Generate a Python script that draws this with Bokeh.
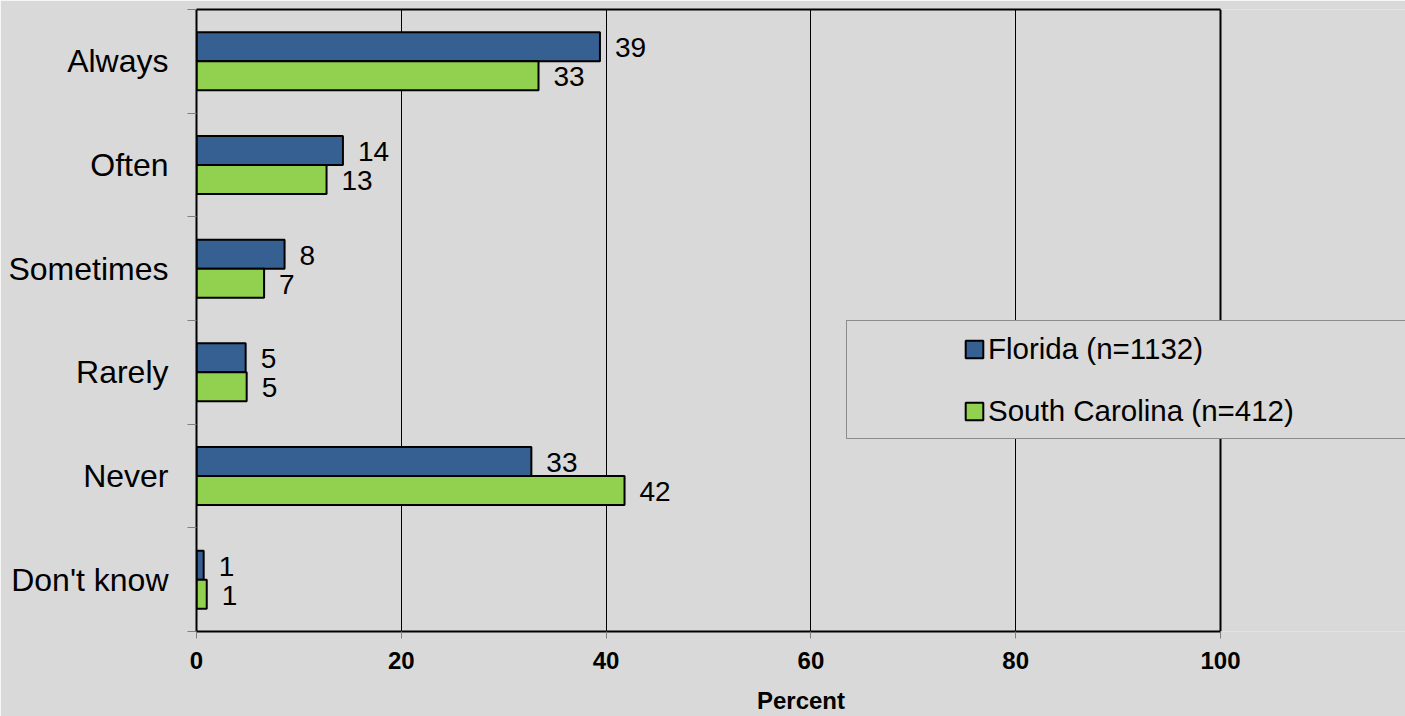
from bokeh.plotting import figure
from bokeh.models import (Range1d, FixedTicker, Legend, LegendItem, ColumnDataSource,
                          LinearAxis, Grid)
from bokeh.embed import file_html
from bokeh.resources import INLINE
from bokeh.core.properties import value

# ---- data ----
categories = ["Always", "Often", "Sometimes", "Rarely", "Never", "Don't know"]
florida = [39.4, 14.3, 8.6, 4.8, 32.7, 0.7]
south_carolina = [33.4, 12.7, 6.6, 4.9, 41.8, 1.0]
florida_labels = ["39", "14", "8", "5", "33", "1"]
sc_labels = ["33", "13", "7", "5", "42", "1"]
series_names = ["Florida (n=1132)", "South Carolina (n=412)"]
x_ticks = [0, 20, 40, 60, 80, 100]
x_axis_max = 100

BG = "#D9D9D9"
FL_COLOR = "#376092"
SC_COLOR = "#92D050"
FONT = "Liberation Sans"

W, H = 1405, 716
LEFT, RIGHT_FRAME, TOP, BOTTOM = 196, 1220, 9, 631
# frame extends to the right canvas edge so the legend box is not clipped
px_per_unit = (RIGHT_FRAME - LEFT) / x_axis_max
x_end = (W - LEFT) / px_per_unit

n = len(categories)
centers = [n - i - 0.5 for i in range(n)]
boundaries = [float(i) for i in range(n + 1)]
off = 0.14
bar_h = 0.28

p = figure(width=W, height=H,
           x_range=Range1d(0, x_end), y_range=Range1d(0, n),
           output_backend="svg", toolbar_location=None,
           min_border_left=LEFT, min_border_right=0,
           min_border_top=TOP, min_border_bottom=H - BOTTOM,
           background_fill_color=BG, border_fill_color=BG,
           outline_line_color=None)

fl_src = ColumnDataSource(dict(y=[c + off for c in centers], right=florida, label=florida_labels))
sc_src = ColumnDataSource(dict(y=[c - off for c in centers], right=south_carolina, label=sc_labels))

r_fl = p.hbar(y="y", left=0, right="right", height=bar_h, source=fl_src,
              fill_color=FL_COLOR, line_color="black", line_width=2)
r_sc = p.hbar(y="y", left=0, right="right", height=bar_h, source=sc_src,
              fill_color=SC_COLOR, line_color="black", line_width=2)

for src in (fl_src, sc_src):
    p.text(x="right", y="y", text="label", source=src, x_offset=15, y_offset=1,
           text_baseline="middle", text_align="left",
           text_font=value(FONT), text_font_size="28px", text_color="black")

# x axis (bottom) - its line is the bottom frame border
p.xaxis.ticker = FixedTicker(ticks=x_ticks)
p.xaxis.bounds = (0, x_axis_max)
p.xaxis.major_label_text_font = FONT
p.xaxis.major_label_text_font_style = "bold"
p.xaxis.major_label_text_font_size = "24px"
p.xaxis.major_label_text_color = "black"
p.xaxis.major_tick_out = 7
p.xaxis.major_tick_in = 0
p.xaxis.major_tick_line_color = "#808080"
p.xaxis.minor_tick_line_color = None
p.xaxis.axis_line_color = "black"
p.xaxis.axis_line_width = 2
p.xaxis.major_label_standoff = 13
p.xaxis.axis_label = "Percent"
p.xaxis.axis_label_text_font = FONT
p.xaxis.axis_label_text_font_style = "bold"
p.xaxis.axis_label_text_font_size = "24px"
p.xaxis.axis_label_text_color = "black"
p.xaxis.axis_label_standoff = 15

# top border
top_axis = LinearAxis(ticker=FixedTicker(ticks=[]), bounds=(0, x_axis_max),
                      axis_line_color="black", axis_line_width=2,
                      major_tick_out=0, major_tick_in=0, minor_tick_out=0, minor_tick_in=0,
                      major_label_text_font_size="0px", major_label_standoff=0)
p.add_layout(top_axis, "above")

# y axis - its line is the left frame border
p.yaxis.ticker = FixedTicker(ticks=centers, minor_ticks=boundaries)
p.yaxis.major_label_overrides = {c: name for c, name in zip(centers, categories)}
p.yaxis.major_label_text_font = FONT
p.yaxis.major_label_text_font_size = "32px"
p.yaxis.major_label_text_color = "black"
p.yaxis.major_tick_out = 0
p.yaxis.major_tick_in = 0
p.yaxis.major_tick_line_color = None
p.yaxis.minor_tick_out = 9
p.yaxis.minor_tick_in = 0
p.yaxis.minor_tick_line_color = "#808080"
p.yaxis.axis_line_color = "black"
p.yaxis.axis_line_width = 2
p.yaxis.major_label_standoff = 19

# grid
p.ygrid.grid_line_color = None
p.xgrid.ticker = FixedTicker(ticks=[t for t in x_ticks if 0 < t < x_axis_max])
p.xgrid.grid_line_color = "black"
p.xgrid.grid_line_width = 1
right_border = Grid(dimension=0, ticker=FixedTicker(ticks=[x_axis_max]),
                    grid_line_color="black", grid_line_width=2)
p.add_layout(right_border)

# legend background box
dummy = p.scatter(x=[], y=[], fill_alpha=0, line_alpha=0)
bg_legend = Legend(items=[LegendItem(label=" ", renderers=[dummy])],
                   location=(650, 192), padding=0, margin=0,
                   glyph_width=1, glyph_height=117,
                   label_width=557, label_height=117, label_standoff=0, spacing=0,
                   background_fill_color=BG, background_fill_alpha=1,
                   border_line_color="#404040", border_line_width=1)
p.add_layout(bg_legend)

item_legend = Legend(items=[LegendItem(label=series_names[0], renderers=[r_fl]),
                            LegendItem(label=series_names[1], renderers=[r_sc])],
                     location=(767, 203), padding=0, margin=0,
                     glyph_width=22, glyph_height=22, label_standoff=3,
                     spacing=28, label_height=32,
                     label_text_font=FONT, label_text_font_size="29.5px",
                     label_text_color="black",
                     background_fill_alpha=0, border_line_color=None)
p.add_layout(item_legend)

open("out.html", "w").write(file_html(p, INLINE))
